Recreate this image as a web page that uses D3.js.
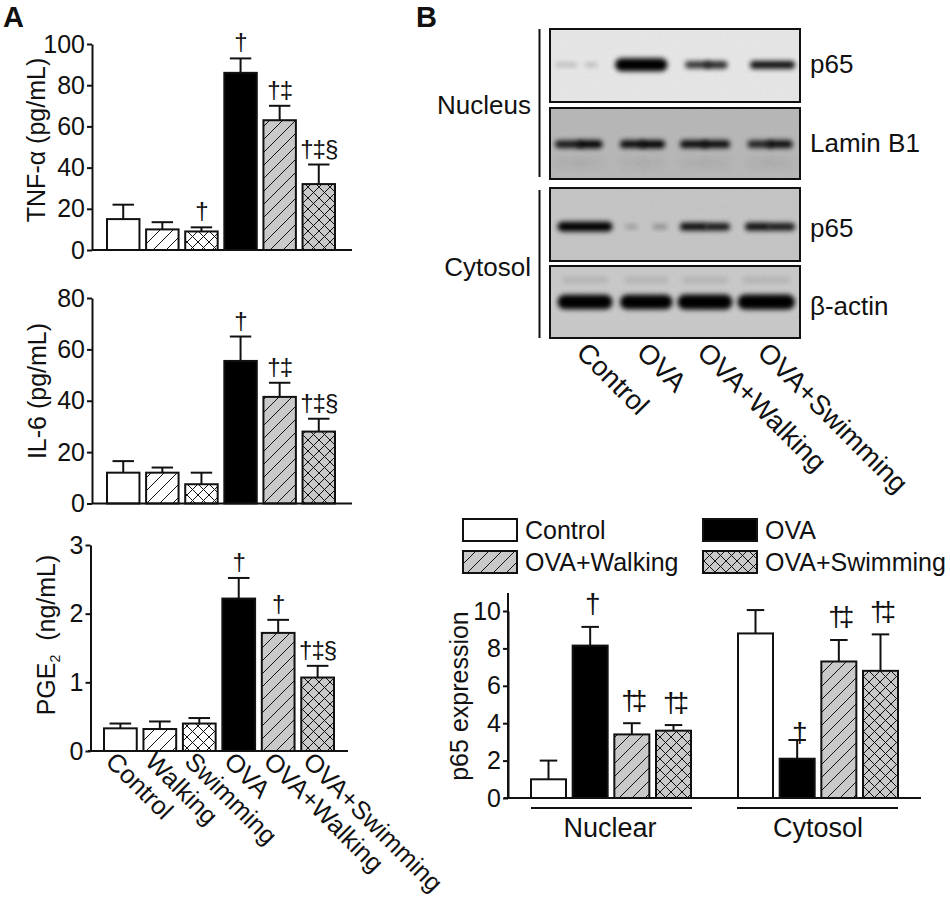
<!DOCTYPE html>
<html><head><meta charset="utf-8">
<script src="https://cdn.jsdelivr.net/npm/d3@7"></script>
<style>
html,body{margin:0;padding:0;background:#fff}
text{font-family:"Liberation Sans",Arial,sans-serif;fill:#111}
</style></head><body><svg id="c" width="950" height="900"></svg>
<script>
// ---------- data ----------
const groupsA = ["Control","Walking","Swimming","OVA","OVA+Walking","OVA+Swimming"];
const fillsA = ["plain","hatchWhite","crossWhite","black","hatchGrey","crossGrey"];
const tnfValues = [15,10,9,86,63,32];
const tnfTops = [22,13.5,11,93,70,41.5];
const tnfMarks = ["","","†","†","†‡","†‡§"];
const il6Values = [12,12,7.5,55.5,41.5,28];
const il6Tops = [16.5,14,12,65,47,33];
const il6Marks = ["","","","†","†‡","†‡§"];
const pgeValues = [0.33,0.32,0.4,2.22,1.72,1.07];
const pgeTops = [0.4,0.43,0.48,2.52,1.91,1.24];
const pgeMarks = ["","","","†","†","†‡§"];
const groupsB = ["Control","OVA","OVA+Walking","OVA+Swimming"];
const fillsB = ["plain","black","hatchGrey","crossGrey"];
const nuclearValues = [1,8.15,3.4,3.6];
const nuclearTops = [2,9.15,4,3.9];
const nuclearMarks = ["","†","†‡","†‡"];
const cytosolValues = [8.8,2.1,7.3,6.8];
const cytosolTops = [10.05,3.1,8.45,8.75];
const cytosolMarks = ["","†","†‡","†‡"];
// western blot bands: [start, end, density] on a 0-100 lane axis
const blotNames = ["p65","Lamin B1","p65","β-actin"];
const blotShades = ["#e6e6e6","#b6b6b6","#c4c4c4","#c8c8c8"];
const bandsNuclearP65 = [[2,11,.2],[14,19,.22],[26,47,1.15],[54,64,.8],[62,71,.85],[80,98,.95]];
const bandsLamin = [[2,13,.9],[11,21,1],[28,38,.95],[36,46,1],[52,63,.95],[61,72,.95],[79,89,.85],[87,97,.95]];
const bandsCytosolP65 = [[3,25,1.05],[30,35,.24],[41,47,.3],[52,63,.95],[62,72,.9],[78,88,.95],[87,98,.9]];
const bandsActin = [[3,25,1.3],[28,49,1.3],[51,73,1.35],[75,98,1.35]];

// ---------- helpers ----------
const svg = d3.select("#c");
const defs = svg.append("defs");
function pattern(id, bg, dirs, size){
  const p = defs.append("pattern").attr("id",id).attr("patternUnits","userSpaceOnUse")
    .attr("width",size).attr("height",size);
  p.append("rect").attr("width",size).attr("height",size).attr("fill",bg);
  dirs.forEach(d=>{
    const path = d>0 ? `M0,${size}L${size},0M${-size/2},${size/2}L${size/2},${-size/2}M${size/2},${size*1.5}L${size*1.5},${size/2}`
                     : `M0,0L${size},${size}M${-size/2},${size/2}L${size/2},${size*1.5}M${size/2},${-size/2}L${size*1.5},${size/2}`;
    p.append("path").attr("d",path).attr("stroke","#111").attr("stroke-width",1).attr("fill","none");
  });
}
pattern("hatchWhite","#fff",[1],13);
pattern("hatchGrey","#c9c9c9",[1],13);
pattern("crossWhite","#fff",[1,-1],11);
pattern("crossGrey","#c9c9c9",[1,-1],11);
const fillOf = k => k==="plain" ? "#fff" : k==="black" ? "#000" : `url(#${k})`;
const blur = defs.append("filter").attr("id","blur").attr("x","-20%").attr("y","-80%").attr("width","140%").attr("height","260%");
blur.append("feGaussianBlur").attr("stdDeviation",2.4);
const blurSoft = defs.append("filter").attr("id","soft").attr("x","-20%").attr("y","-60%").attr("width","140%").attr("height","220%");
blurSoft.append("feGaussianBlur").attr("stdDeviation",5);
const grain = defs.append("filter").attr("id","grain").attr("x","0").attr("y","0").attr("width","100%").attr("height","100%");
grain.append("feTurbulence").attr("type","fractalNoise").attr("baseFrequency",.35).attr("numOctaves",2).attr("seed",4);
grain.append("feColorMatrix").attr("type","saturate").attr("values",0);

function yAxis(scale, x, ticks, title, titleX, titleY, sub, fmt){
  const g = svg.append("g").attr("transform",`translate(${x},0)`)
    .call(d3.axisLeft(scale).tickValues(ticks).tickFormat(fmt||d3.format("d")).tickSize(5).tickPadding(2).tickSizeOuter(0));
  g.selectAll("path,line").attr("stroke","#111").attr("stroke-width",2);
  g.selectAll("text").attr("font-size",25).attr("fill","#111").style("font-family",'"Liberation Sans",Arial,sans-serif');
  const t = svg.append("text").attr("transform",`translate(${titleX},${titleY}) rotate(-90)`)
    .attr("text-anchor","middle").attr("font-size",25).text(title);
  if(sub){ t.append("tspan").attr("font-size",14).attr("dy",5).text(sub);
           t.append("tspan").attr("dy",-5).attr("xml:space","preserve").text("\u00a0 (ng/mL)"); }
}
function bars(band, y, values, tops, fills, marks, lift, spacing, names, capRatio, markSize){
  const g = svg.append("g");
  const y0 = y(0);
  names.forEach((n,i)=>{
    const cx = band(n)+band.bandwidth()/2, w = band.bandwidth();
    g.append("line").attr("x1",cx).attr("x2",cx).attr("y1",y(values[i])).attr("y2",y(tops[i])).attr("stroke","#111").attr("stroke-width",2);
    g.append("line").attr("x1",cx-w*capRatio).attr("x2",cx+w*capRatio).attr("y1",y(tops[i])).attr("y2",y(tops[i])).attr("stroke","#111").attr("stroke-width",2);
    g.append("rect").attr("x",band(n)).attr("width",w).attr("y",y(values[i])).attr("height",y0-y(values[i]))
      .attr("fill",fillOf(fills[i])).attr("stroke","#111").attr("stroke-width",2);
    if(marks[i]) g.append("text").attr("x",cx).attr("y",y(tops[i])-lift(marks[i],i))
      .attr("text-anchor","middle").attr("font-size",markSize).attr("letter-spacing",spacing).text(marks[i]);
  });
}
function baseLine(x1,x2,y){ svg.append("line").attr("x1",x1).attr("x2",x2).attr("y1",y).attr("y2",y).attr("stroke","#111").attr("stroke-width",2); }

// panel letters
svg.append("text").attr("x",3).attr("y",26.5).attr("font-size",29).attr("font-weight","bold").attr("fill","#000").text("A");
svg.append("text").attr("x",416).attr("y",26.5).attr("font-size",29).attr("font-weight","bold").attr("fill","#000").text("B");

// ---------- panel A ----------
const yTnf = d3.scaleLinear().domain([0,100]).range([250,44]);
const yIl6 = d3.scaleLinear().domain([0,80]).range([503.5,298]);
const yPge = d3.scaleLinear().domain([0,3]).range([751,545]);
const bandA1 = d3.scaleBand().domain(groupsA).range([107,335]).paddingInner(.17).paddingOuter(0);
const bandA3 = d3.scaleBand().domain(groupsA).range([104,334]).paddingInner(.17).paddingOuter(0);
const liftA = () => 8;
yAxis(yTnf,92,[0,20,40,60,80,100],"TNF-α (pg/mL)",45,140);
bars(bandA1,yTnf,tnfValues,tnfTops,fillsA,tnfMarks,liftA,-1,groupsA,.33,24);
baseLine(92,352,yTnf(0));
yAxis(yIl6,92,[0,20,40,60,80],"IL-6 (pg/mL)",46,391);
bars(bandA1,yIl6,il6Values,il6Tops,fillsA,il6Marks,liftA,-1,groupsA,.33,24);
baseLine(92,352,yIl6(0));
yAxis(yPge,90.5,[0,1,2,3],"PGE",55,635,"2");
bars(bandA3,yPge,pgeValues,pgeTops,fillsA,pgeMarks,liftA,-1,groupsA,.33,24);
baseLine(88,348,yPge(0));
groupsA.forEach(n=>{
  const cx = bandA3(n)+bandA3.bandwidth()/2;
  svg.append("text").attr("transform",`translate(${cx-16},${763}) rotate(45)`).attr("font-size",25.5).text(n);
});

// ---------- panel B blots ----------
const laneX = d3.scaleLinear().domain([0,100]).range([550,800]);
const blotTops = [29,108,188,266], blotBottoms = [102,179,261,338];
const rowFrac = [.49,.51,.53,.5];
const blotBands = [bandsNuclearP65,bandsLamin,bandsCytosolP65,bandsActin];
const thick = d3.scaleLinear().domain([.2,1,1.15,1.35]).range([4,8,13,15]);
blotNames.forEach((name,i)=>{
  const top=blotTops[i], bot=blotBottoms[i];
  const clipId="clip"+i;
  defs.append("clipPath").attr("id",clipId).append("rect").attr("x",laneX(0)).attr("y",top).attr("width",laneX(100)-laneX(0)).attr("height",bot-top);
  const g = svg.append("g").attr("clip-path",`url(#${clipId})`);
  g.append("rect").attr("x",laneX(0)).attr("y",top).attr("width",laneX(100)-laneX(0)).attr("height",bot-top).attr("fill",blotShades[i]);
  g.append("rect").attr("x",laneX(0)).attr("y",top).attr("width",laneX(100)-laneX(0)).attr("height",bot-top)
    .attr("filter","url(#grain)").attr("opacity",.07);
  const cy = top+(bot-top)*rowFrac[i];
  blotBands[i].forEach(b=>{
    const h = thick(b[2]);
    g.append("rect").attr("x",laneX(b[0])).attr("width",laneX(b[1])-laneX(b[0])).attr("y",cy-h/2).attr("height",h)
      .attr("rx",h/2).attr("fill","#000").attr("opacity",Math.min(1,b[2])).attr("filter","url(#blur)");
    if(i===3) g.append("rect").attr("x",laneX(b[0]+2)).attr("width",laneX(b[1]-2)-laneX(b[0]+2)).attr("y",cy-25).attr("height",6)
      .attr("fill","#000").attr("opacity",.1).attr("filter","url(#blur)");
    if(i===1) g.append("rect").attr("x",laneX(b[0])).attr("width",laneX(b[1])-laneX(b[0])).attr("y",cy+14).attr("height",9)
      .attr("fill","#000").attr("opacity",.05).attr("filter","url(#soft)");
  });
  svg.append("rect").attr("x",laneX(0)).attr("y",top).attr("width",laneX(100)-laneX(0)).attr("height",bot-top)
    .attr("fill","none").attr("stroke","#111").attr("stroke-width",2);
  svg.append("text").attr("x",810).attr("y",[73,152,237,315][i]).attr("font-size",26).text(name);
});
[[29,177],[190,338]].forEach(s=>svg.append("line").attr("x1",539.5).attr("x2",539.5).attr("y1",s[0]).attr("y2",s[1]).attr("stroke","#111").attr("stroke-width",2));
svg.append("text").attr("x",531).attr("y",114).attr("text-anchor","end").attr("font-size",26).text("Nucleus");
svg.append("text").attr("x",531).attr("y",276).attr("text-anchor","end").attr("font-size",26).text("Cytosol");
const laneLabelX = d3.scalePoint().domain(groupsB).range([586,767]);
groupsB.forEach(n=>{
  svg.append("text").attr("transform",`translate(${laneLabelX(n)-11},${354}) rotate(45)`).attr("font-size",27.5).text(n);
});

// ---------- panel B legend ----------
const legendCols=[463,703], legendRows=[519,551];
groupsB.forEach((n,i)=>{
  const x=legendCols[i%2], y=legendRows[Math.floor(i/2)];
  svg.append("rect").attr("x",x).attr("y",y).attr("width",54).attr("height",22).attr("fill",fillOf(fillsB[i])).attr("stroke","#111").attr("stroke-width",2);
  svg.append("text").attr("x",x+62).attr("y",y+20).attr("font-size",25).text(n);
});

// ---------- panel B bars ----------
const yP65 = d3.scaleLinear().domain([0,10]).range([798,611]);
const bandN = d3.scaleBand().domain(groupsB).range([531,691]).paddingInner(.16).paddingOuter(0);
const bandC = d3.scaleBand().domain(groupsB).range([738,898]).paddingInner(.16).paddingOuter(0);
yAxis(yP65,508,[0,2,4,6,8,10],"p65 expression",468,696);
svg.append("line").attr("x1",508).attr("x2",508).attr("y1",593).attr("y2",798).attr("stroke","#111").attr("stroke-width",2);
bars(bandN,yP65,nuclearValues,nuclearTops,fillsB,nuclearMarks,()=>13.5,-5,groupsB,.25,28);
bars(bandC,yP65,cytosolValues,cytosolTops,fillsB,cytosolMarks,(m,i)=>i===1?-1.5:13.5,-5,groupsB,.25,28);
baseLine(504,921,yP65(0));
baseLine(531,692,808);
baseLine(737,898,808);
svg.append("text").attr("x",610).attr("y",837).attr("text-anchor","middle").attr("font-size",27).text("Nuclear");
svg.append("text").attr("x",818).attr("y",837).attr("text-anchor","middle").attr("font-size",27).text("Cytosol");
</script></body></html>
